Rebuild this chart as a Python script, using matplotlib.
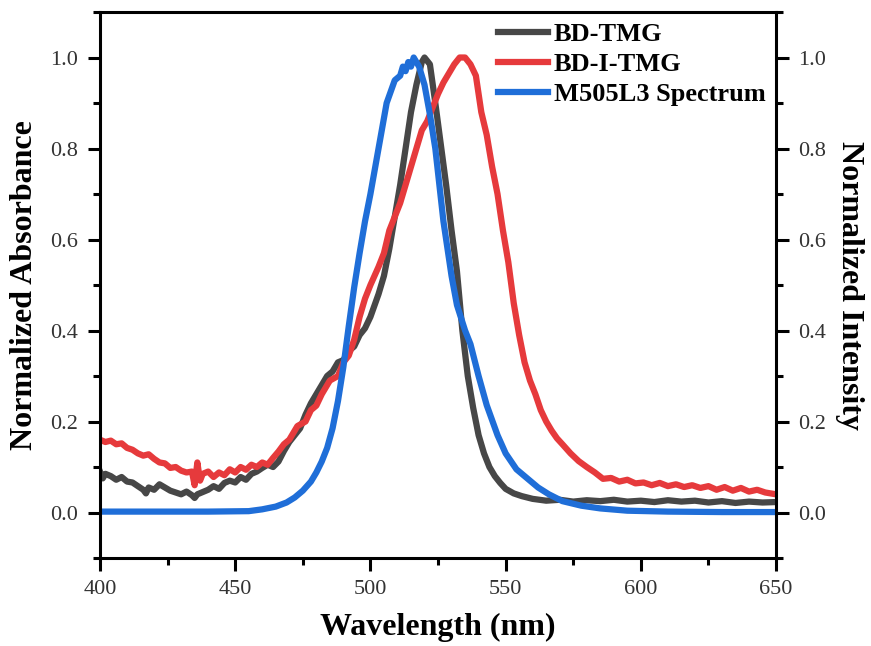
import matplotlib
import numpy as np

matplotlib.use("Agg")
import matplotlib.pyplot as plt
from matplotlib.ticker import MultipleLocator


# BD-TMG absorbance
bd_wl = [
    400, 401, 402, 404, 406, 408, 410, 412, 414, 416, 417, 418, 420, 422, 424, 426, 428, 430,
    432, 434, 435, 436, 438, 440, 442, 444, 446, 448, 450, 452, 454, 456, 458, 460, 462, 464,
    466, 468, 470, 472, 474, 476, 478, 480, 482, 484, 486, 488, 490, 492, 494, 496, 498, 500,
    503, 505, 507, 509, 511, 513, 515, 517, 519, 520, 522, 524, 526, 528, 530, 532, 534, 536,
    538, 540, 542, 544, 546, 548, 550, 553, 556, 560, 565, 570, 575, 580, 585, 590, 595, 600,
    605, 610, 615, 620, 625, 630, 635, 640, 645, 650,
]
bd_abs = [
    0.090, 0.075, 0.085, 0.080, 0.072, 0.078, 0.068, 0.066, 0.058, 0.050, 0.042, 0.055, 0.050,
    0.062, 0.055, 0.048, 0.044, 0.040, 0.046, 0.038, 0.032, 0.040, 0.045, 0.050, 0.058, 0.052,
    0.065, 0.070, 0.066, 0.078, 0.072, 0.085, 0.090, 0.098, 0.105, 0.100, 0.112, 0.135, 0.155,
    0.170, 0.185, 0.215, 0.240, 0.260, 0.280, 0.300, 0.310, 0.330, 0.335, 0.355, 0.365, 0.390,
    0.405, 0.430, 0.480, 0.520, 0.580, 0.650, 0.720, 0.800, 0.880, 0.940, 0.990, 1.000, 0.985,
    0.900, 0.810, 0.720, 0.620, 0.530, 0.400, 0.300, 0.230, 0.170, 0.130, 0.100, 0.080, 0.065,
    0.052, 0.042, 0.036, 0.030, 0.026, 0.028, 0.024, 0.027, 0.025, 0.028, 0.024, 0.026, 0.023,
    0.027, 0.024, 0.026, 0.022, 0.025, 0.021, 0.024, 0.022, 0.023,
]

# BD-I-TMG absorbance
bdi_wl = [
    400, 402, 404, 406, 408, 410, 412, 414, 416, 418, 420, 422, 424, 426, 428, 430, 432, 434,
    435, 436, 437, 438, 440, 442, 444, 446, 448, 450, 452, 454, 456, 458, 460, 462, 464, 466,
    468, 470, 473, 476, 478, 480, 482, 485, 488, 490, 492, 494, 496, 498, 500, 503, 505, 507,
    509, 511, 513, 515, 517, 519, 521, 523, 525, 527, 529, 531, 533, 535, 537, 539, 541, 543,
    545, 547, 549, 551, 553, 555, 557, 559, 561, 563, 565, 567, 569, 571, 574, 577, 580, 583,
    586, 589, 592, 595, 598, 601, 604, 607, 610, 613, 616, 619, 622, 625, 628, 631, 634, 637,
    640, 643, 646, 648, 650,
]
bdi_abs = [
    0.160, 0.155, 0.158, 0.150, 0.152, 0.142, 0.138, 0.130, 0.125, 0.128, 0.118, 0.110, 0.108,
    0.098, 0.100, 0.092, 0.088, 0.090, 0.060, 0.110, 0.070, 0.085, 0.090, 0.078, 0.088, 0.082,
    0.095, 0.088, 0.100, 0.094, 0.105, 0.100, 0.110, 0.105, 0.120, 0.134, 0.150, 0.160, 0.190,
    0.200, 0.225, 0.235, 0.260, 0.290, 0.300, 0.330, 0.345, 0.380, 0.430, 0.470, 0.500, 0.540,
    0.570, 0.620, 0.650, 0.680, 0.720, 0.760, 0.800, 0.840, 0.860, 0.890, 0.920, 0.945, 0.965,
    0.985, 1.000, 1.000, 0.985, 0.960, 0.880, 0.830, 0.760, 0.700, 0.620, 0.550, 0.460, 0.390,
    0.330, 0.290, 0.260, 0.225, 0.200, 0.180, 0.163, 0.150, 0.130, 0.113, 0.100, 0.088, 0.074,
    0.076, 0.068, 0.072, 0.064, 0.066, 0.060, 0.065, 0.058, 0.062, 0.056, 0.060, 0.054, 0.058,
    0.050, 0.056, 0.048, 0.054, 0.046, 0.050, 0.044, 0.042, 0.040,
]

# M505L3 LED emission spectrum
led_wl = [
    400, 420, 440, 455, 460, 465, 469, 472, 475, 478, 480, 482, 484, 486, 488, 490, 492, 494,
    496, 498, 500, 503, 506, 509, 511, 512, 513, 514, 515, 516, 517, 518, 520, 522, 524, 527,
    530, 532, 535, 537, 540, 543, 547, 550, 554, 558, 562, 566, 571, 578, 585, 595, 610, 630,
    650,
]
led_int = [
    0.002, 0.002, 0.002, 0.003, 0.007, 0.013, 0.022, 0.033, 0.048, 0.068, 0.088, 0.112, 0.142,
    0.185, 0.245, 0.320, 0.410, 0.495, 0.570, 0.640, 0.700, 0.800, 0.900, 0.950, 0.960, 0.980,
    0.970, 0.990, 0.980, 1.000, 0.990, 0.980, 0.940, 0.875, 0.800, 0.640, 0.520, 0.456, 0.400,
    0.370, 0.300, 0.236, 0.170, 0.130, 0.095, 0.075, 0.055, 0.040, 0.025, 0.015, 0.009, 0.004,
    0.002, 0.001, 0.001,
]

labels = ["BD-TMG", "BD-I-TMG", "M505L3 Spectrum"]
colors = ["#474747", "#e63a3c", "#1f6ed8"]

serif = "Liberation Serif"

fig = plt.figure(figsize=(8.71, 6.46), dpi=100)
ax = fig.add_axes([0.1148, 0.1362, 0.7762, 0.8452])

ax.plot(bd_wl, bd_abs, color=colors[0], lw=4.5, label=labels[0])
ax.plot(bdi_wl, bdi_abs, color=colors[1], lw=4.5, label=labels[1])
ax.plot(led_wl, led_int, color=colors[2], lw=4.5, label=labels[2])

ax.set_xlim(400, 650)
ax.set_ylim(-0.1, 1.1)
ax.xaxis.set_major_locator(MultipleLocator(50))
ax.xaxis.set_minor_locator(MultipleLocator(25))
ax.yaxis.set_minor_locator(MultipleLocator(0.1))
ax.set_yticks(np.arange(0, 1.01, 0.2))
ax.set_yticklabels([f"{v:.1f}" for v in np.arange(0, 1.01, 0.2)])

for side in ax.spines.values():
    side.set_linewidth(2.2)

ax.tick_params(which="both", direction="out", width=2.2, top=False, right=True,
               labelright=True, labelsize=16, labelcolor="#333333", pad=7)
ax.tick_params(which="major", length=9)
ax.tick_params(which="minor", length=5)
for t in ax.xaxis.get_major_ticks() + ax.yaxis.get_major_ticks():
    t.label1.set_family(serif)
    t.label2.set_family(serif)

ax.set_xlabel("Wavelength (nm)", family=serif, weight="bold", fontsize=23, labelpad=10)
ax.set_ylabel("Normalized Absorbance", family=serif, weight="bold", fontsize=23, labelpad=8)
fig.text(0.975, 0.5575, "Normalized Intensity", family=serif, weight="bold", fontsize=23,
         rotation=-90, ha="center", va="center")

ax.legend(loc="upper right", bbox_to_anchor=(1.0, 1.0), frameon=False, borderpad=0.3,
          borderaxespad=0.1, handlelength=1.9, handletextpad=0.2, labelspacing=0.25,
          prop={"family": serif, "weight": "bold", "size": 19})

fig.savefig("out.png", dpi=100)
